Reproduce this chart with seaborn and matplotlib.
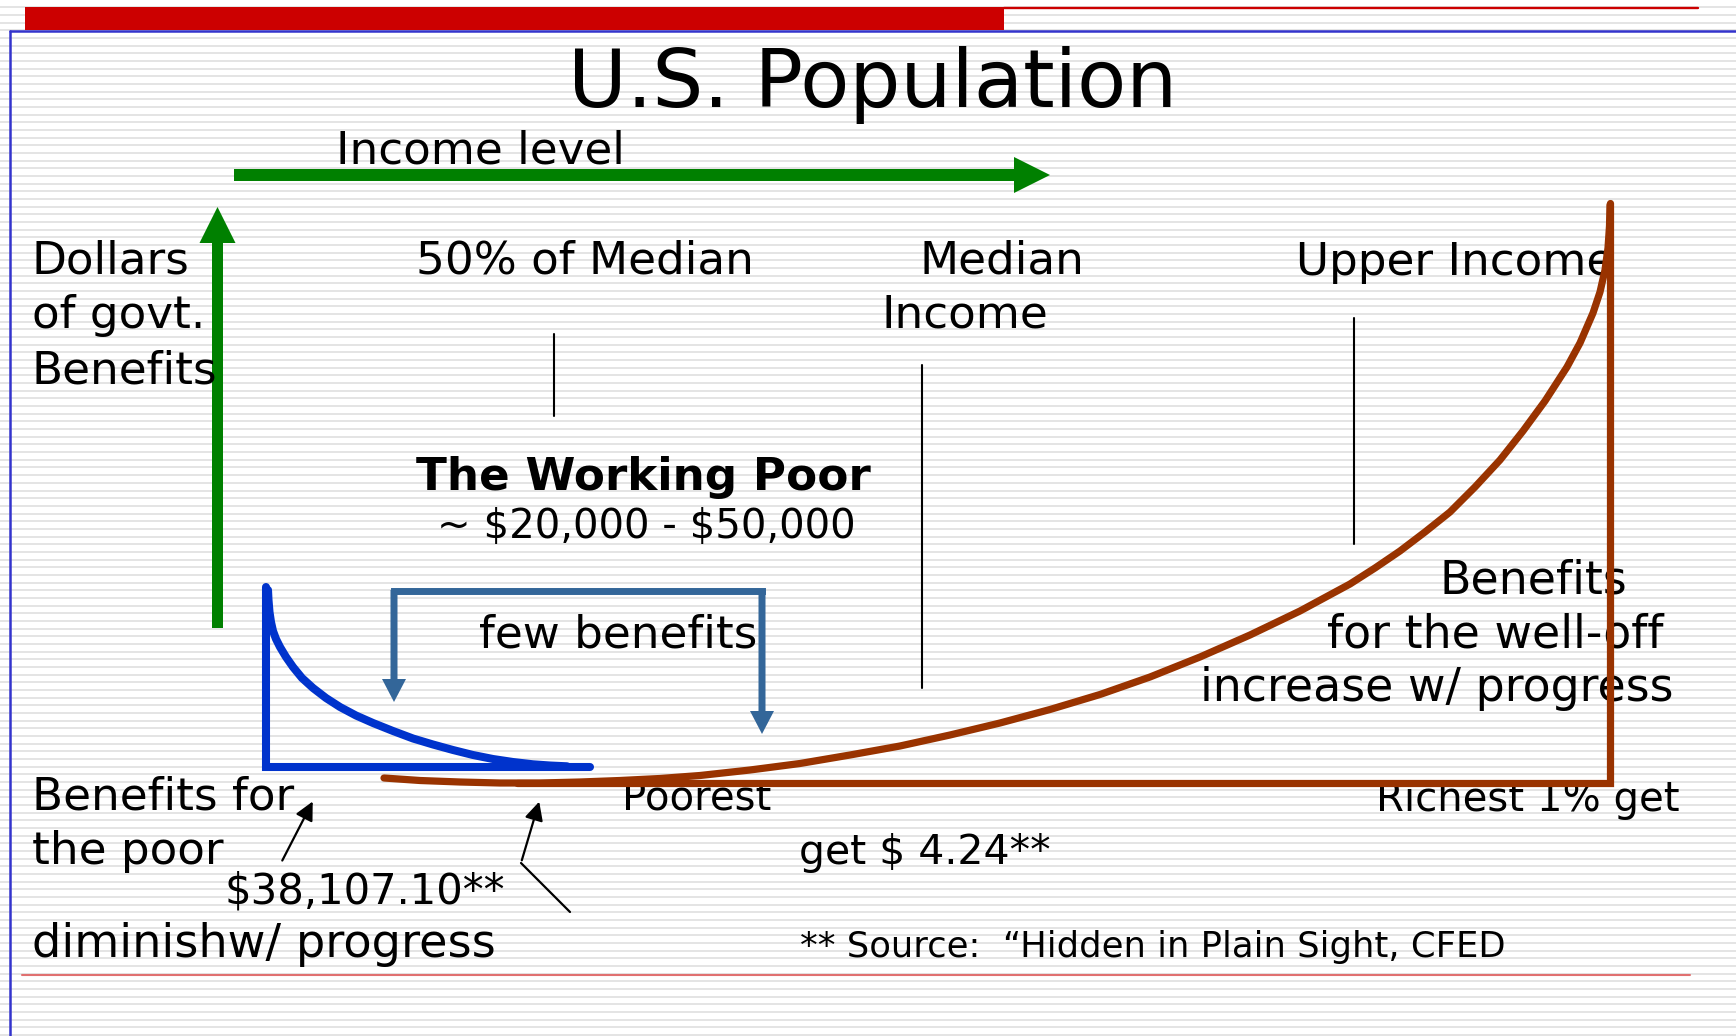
import matplotlib.pyplot as plt
import seaborn as sns
import numpy as np

# curve shapes (pixel coordinates, y grows downward)
blue_curve_x = [268, 268.5, 269.5, 271, 273, 276, 280, 286, 293, 302, 313, 326,
                340, 356, 373, 393, 413, 433, 453, 473, 493, 513, 533, 550, 567]
blue_curve_y = [590, 600, 612, 622, 631, 639, 647, 657, 667, 678, 688, 698,
                707, 715.5, 723, 731, 738.5, 744.5, 750, 755, 759, 762, 764.3, 765.5, 766.3]

brown_curve_x = [384, 420, 460, 500, 540, 580, 620, 660, 700, 750, 800, 850, 900,
                 950, 1000, 1050, 1100, 1150, 1200, 1250, 1300, 1350, 1375, 1400,
                 1425, 1450, 1475, 1500, 1523, 1545, 1567, 1580, 1593, 1600, 1605,
                 1608, 1609.5, 1610]
brown_curve_y = [778, 780.5, 782, 783, 783, 782, 780.5, 778.5, 775.5, 770, 763.5, 755, 746,
                 735, 723, 709.5, 694.5, 677, 657, 635, 611, 584, 568, 551,
                 532, 512, 487, 460, 431, 401, 367, 343, 313, 292, 270,
                 248, 226, 205]

title = "U.S. Population"
axis_x_label = "Income level"
axis_y_label = ["Dollars", "of govt.", "Benefits"]
income_marks = ["50% of Median", "Median", "Income", "Upper Income"]
working_poor = ["The Working Poor", "~ \\$20,000 - \\$50,000"]
poor_label = ["Benefits for", "the poor", "\\$38,107.10**", "diminishw/ progress"]
rich_label = ["Benefits", "for the well-off", "increase w/ progress"]
bottom_notes = ["Poorest", "get \\$ 4.24**", "** Source:  \u201cHidden in Plain Sight, CFED",
                "Richest 1% get"]

GREEN = "#008000"
BLUE = "#0033cc"
BROWN = "#993300"
STEEL = "#336699"

sns.set_style("white")
plt.rcParams["font.family"] = ["DejaVu Sans"]
plt.rcParams["text.color"] = "black"

W, H = 1736, 1036
fig = plt.figure(figsize=(W / 100, H / 100), dpi=100)
fig.patch.set_facecolor("white")
ax = fig.add_axes([0, 0, 1, 1])
ax.set_facecolor("white")

# striped slide background
ax.hlines(np.arange(7.3, H, 7.67), 0, W, color="#e2e2e2", lw=1.3, zorder=0)

# slide decoration
ax.fill_between([25, 1004], 7, 30, color="#cc0000", lw=0, zorder=1)
ax.plot([1004, 1698], [7.8, 7.8], color="#cc0000", lw=1.7, zorder=1)
ax.plot([10, W], [31, 31], color="#3333cc", lw=1.8, zorder=1)
ax.plot([10, 10], [31, H], color="#3333cc", lw=1.8, zorder=1)
ax.plot([22, 1690], [975, 975], color="#e07070", lw=1.5, zorder=1)

# green axes arrows
ax.arrow(234, 175, 1050 - 234, 0, width=12, head_width=36, head_length=36,
         length_includes_head=True, color=GREEN, lw=0, zorder=3)
ax.arrow(217.5, 628, 0, 207 - 628, width=11, head_width=36, head_length=36,
         length_includes_head=True, color=GREEN, lw=0, zorder=3)

# thin black marker lines
ax.plot([553.5, 553.5], [334, 416], color="black", lw=1.5, zorder=2)
ax.plot([922, 922], [365, 688], color="black", lw=1.5, zorder=2)
ax.plot([1354, 1354], [318, 544], color="black", lw=1.5, zorder=2)

# few benefits bracket
ax.plot([394, 762], [590.5, 590.5], color=STEEL, lw=5, solid_capstyle="projecting", zorder=3)
ax.arrow(394, 590, 0, 702 - 590, width=7, head_width=24, head_length=23,
         length_includes_head=True, color=STEEL, lw=0, zorder=3)
ax.arrow(762, 590, 0, 734 - 590, width=7, head_width=24, head_length=23,
         length_includes_head=True, color=STEEL, lw=0, zorder=3)

# texts
fs = 32.6
ax.text(873, 107, title, fontsize=58, ha="center", va="baseline", zorder=4)
ax.text(336, 164, axis_x_label, fontsize=fs, va="baseline", zorder=4)
for txt, y in zip(axis_y_label, [273, 328, 383]):
    ax.text(32, y, txt, fontsize=fs, va="baseline", zorder=4)
for txt, (x, y) in zip(income_marks, [(416, 274), (919, 274), (882, 327), (1296, 275)]):
    ax.text(x, y, txt, fontsize=fs, va="baseline", zorder=4)
ax.text(416, 490, working_poor[0], fontsize=fs, fontweight="bold", va="baseline", zorder=4)
ax.text(437, 538, working_poor[1], fontsize=29, va="baseline", zorder=4)
ax.text(479, 648, "few benefits", fontsize=fs, va="baseline", zorder=4)
for txt, (x, y) in zip(rich_label, [(1439, 593), (1327, 647), (1200, 701)]):
    ax.text(x, y, txt, fontsize=33, va="baseline", zorder=4)
for txt, (x, y, s) in zip(poor_label, [(32, 810, fs), (32, 864, fs), (224, 903, 30), (32, 957, 33.3)]):
    ax.text(x, y, txt, fontsize=s, va="baseline", zorder=4)
for txt, (x, y, s) in zip(bottom_notes, [(622, 810, 29), (799, 864, 29.5), (800, 957, 25.5), (1376, 811, 29)]):
    ax.text(x, y, txt, fontsize=s, va="baseline", zorder=4)

# black pointer arrows
ax.annotate("", xy=(314, 799), xytext=(281, 863),
            arrowprops=dict(arrowstyle="-|>", color="black", lw=1.6, mutation_scale=28), zorder=5)
ax.plot([570, 521], [912, 863], color="black", lw=1.6, zorder=5)
ax.annotate("", xy=(540, 799), xytext=(521, 863),
            arrowprops=dict(arrowstyle="-|>", color="black", lw=1.6, mutation_scale=28), zorder=5)

# blue benefits-for-the-poor shape
ax.plot([266, 266, 590], [587, 767, 767], color=BLUE, lw=5.8,
        solid_joinstyle="miter", zorder=6)
sns.lineplot(x=blue_curve_x, y=blue_curve_y, sort=False, estimator=None,
             color=BLUE, lw=5.8, ax=ax, zorder=6)

# brown benefits-for-the-well-off shape
ax.plot([517, 1610, 1610], [783, 783, 203], color=BROWN, lw=5.2,
        solid_joinstyle="miter", zorder=6)
sns.lineplot(x=brown_curve_x, y=brown_curve_y, sort=False, estimator=None,
             color=BROWN, lw=5.2, ax=ax, zorder=6)

ax.set_xlim(0, W)
ax.set_ylim(H, 0)
ax.axis("off")

plt.savefig("out.png", dpi=100)
plt.close()
